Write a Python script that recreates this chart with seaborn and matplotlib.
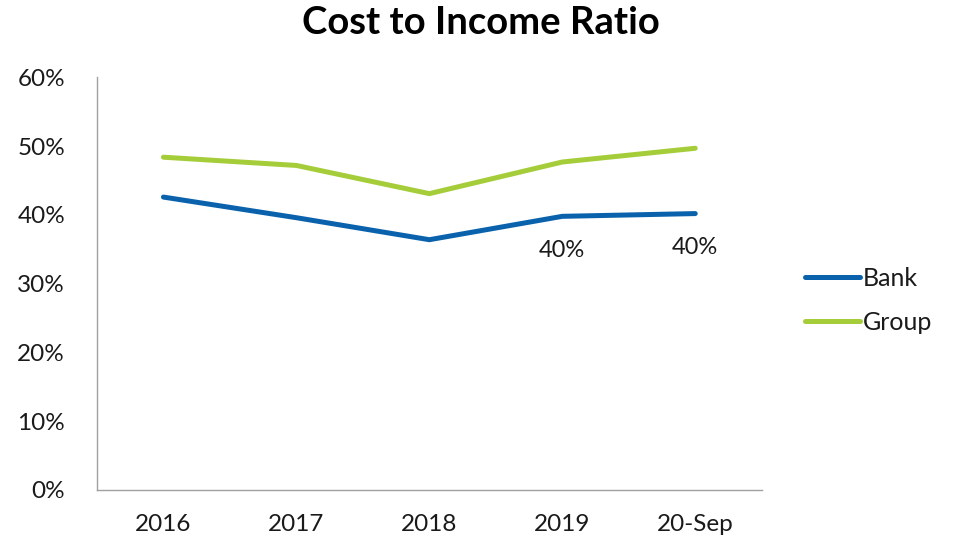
import matplotlib
matplotlib.use("Agg")
import matplotlib.pyplot as plt
import seaborn as sns
import pandas as pd

categories = ["2016", "2017", "2018", "2019", "20-Sep"]
bank = [42.6, 39.6, 36.4, 39.8, 40.2]
group = [48.4, 47.2, 43.1, 47.7, 49.7]
yticks = [0, 10, 20, 30, 40, 50, 60]
labelled = {"2019": "40%", "20-Sep": "40%"}

sns.set_theme(style="white")
plt.rcParams["font.family"] = ["Lato", "DejaVu Sans"]

df = pd.DataFrame({
    "period": categories * 2,
    "value": bank + group,
    "series": ["Bank"] * len(categories) + ["Group"] * len(categories),
})

fig = plt.figure(figsize=(9.62, 5.4), dpi=100)
ax = fig.add_axes([0.1008, 0.0926, 0.691, 0.764])

palette = {"Bank": "#0a62ad", "Group": "#a5cd39"}
sns.lineplot(data=df, x="period", y="value", hue="series", palette=palette,
             linewidth=3.6, sort=False, ax=ax)

for cat, txt in labelled.items():
    i = categories.index(cat)
    ax.annotate(txt, (i, bank[i]), xytext=(0, -17), textcoords="offset points",
                ha="center", va="top", fontsize=17, color="#1a1a1a")

ax.set_xlim(-0.5, len(categories) - 0.5)
ax.set_ylim(0, 60)
ax.set_yticks(yticks)
ax.set_yticklabels([f"{v}%" for v in yticks], fontsize=17.5, color="#1a1a1a")
ax.set_xticks(range(len(categories)))
ax.set_xticklabels(categories, fontsize=17.5, color="#1a1a1a")
ax.tick_params(axis="x", length=0, pad=17)
ax.tick_params(axis="y", length=0, pad=23)
ax.set_xlabel("")
ax.set_ylabel("")
for s in ["top", "right"]:
    ax.spines[s].set_visible(False)
for s in ["left", "bottom"]:
    ax.spines[s].set_color("#a0a0a0")
    ax.spines[s].set_linewidth(1.0)

leg = ax.legend(loc="center left", bbox_to_anchor=(1.032, 0.46), frameon=False,
                fontsize=18, handlelength=2.2, handletextpad=0.1, labelspacing=0.85)
for t in leg.get_texts():
    t.set_color("#1a1a1a")

fig.text(0.5, 0.958, "Cost to Income Ratio", ha="center", va="center",
         fontsize=27.5, fontweight="bold", color="#000000")

fig.savefig("out.png", dpi=100)
